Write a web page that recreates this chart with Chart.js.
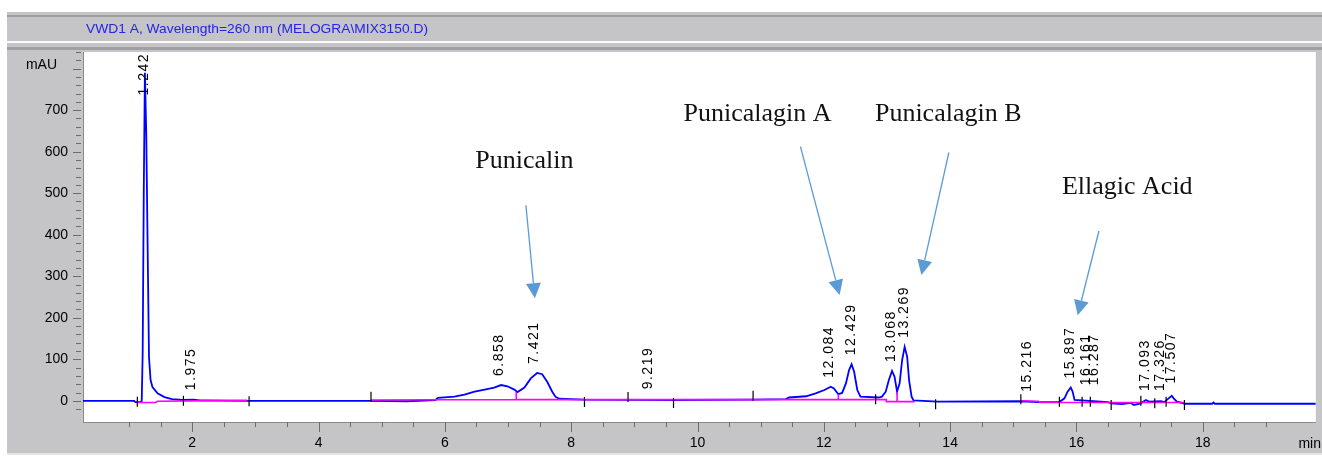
<!DOCTYPE html>
<html>
<head>
<meta charset="utf-8">
<script src="https://cdn.jsdelivr.net/npm/chart.js@4.4.0/dist/chart.umd.min.js"></script>
<style>
html, body { margin: 0; padding: 0; background: #fff; }
#chromChart { display: block; }
</style>
</head>
<body>
<canvas id="chromChart" width="1322" height="457"></canvas>
<script>
// хроматограмма: время (мин) и сигнал (mAU)
var traceTime = [0.27,1.08,1.10,1.18,1.20,1.215,1.232,1.25,1.272,1.295,1.315,1.34,1.37,1.45,1.56,1.68,1.85,2.02,2.12,2.2,2.9,
    4.8,5.4,5.85,5.89,6.15,6.31,6.47,6.63,6.78,6.89,6.99,7.10,7.15,7.26,7.36,7.46,7.54,7.62,7.70,7.75,7.81,8.2,9.6,10.9,
    11.40,11.45,11.72,11.87,12.01,12.11,12.16,12.23,12.29,12.35,12.40,12.44,12.48,12.53,12.58,12.87,12.92,12.98,13.03,13.08,
    13.12,13.16,13.20,13.24,13.28,13.32,13.35,13.39,13.42,13.8,15.12,15.4,15.73,15.81,15.86,15.91,15.94,15.97,16.5,16.55,
    16.72,16.86,16.91,17.02,17.10,17.15,17.34,17.39,17.46,17.51,17.54,17.59,17.72,18.15,18.17,18.19,19.79];
var traceAbs = [0,0,-3,-3,0,115,500,790,640,350,105,50,33,18,9,4,2,3,1,1,0,
    0,-1,2,7,10,15,22,27,32,38,35,27,21,32,54,67,64,46,22,10,5,3,2,3,
    4,8,11,18,26,34,30,16,19,42,74,88,70,26,10,8,10,22,50,72,
    58,22,42,98,130,106,50,10,1,-2,-1,-3,-3,6,22,32,22,2,-3,-6,
    -8,-5,-10,-6,2,-2,-1,-3,6,12,6,-2,-7,-7,-4,-7,-7];
// базовая линия интегрирования (null - разрыв)
var baseTime = [1.13,1.42,1.45,2.87,3.5,4.83,7.13,7.13,7.13,12.23,12.23,12.23,12.99,12.99,13.16,13.16,13.16,13.44,14,15.12,15.4,15.42,17.71];
var baseAbs = [-4,-4,-1,1,null,2,3,21,3,3,16,3,3,-2,-2,20,-2,-2,null,0,-1,-4,-4];
// метки начала/конца пиков
var markTime = [1.13,1.86,2.9,4.83,8.21,8.9,9.62,10.88,12.82,13.77,15.12,15.73,16.09,16.22,16.55,17.02,17.24,17.42,17.71];
var markAbs = [-2,0,-1,10,-3,9,-5,12,4,-8,4,-2,-2,-2,-10,0,-6,-2,-10];
// подписи пиков и высота вершины
var peakLabels = ['1.242','1.975','6.858','7.421','9.219','12.084','12.429','13.068','13.269','15.216','15.897','16.161','16.287','17.093','17.326','17.507'];
var peakHeights = [790,4,38,67,6,34,88,72,130,0,32,16,16,2,2,20];
// подписи веществ
var compoundNames = ['Punicalin','Punicalagin A','Punicalagin B','Ellagic Acid'];
var xTickLabels = [2,4,6,8,10,12,14,16,18];
var yTickLabels = [0,100,200,300,400,500,600,700];

var titleText = 'VWD1 A, Wavelength=260 nm (MELOGRA\\MIX3150.D)';

// положение подписей и стрелок (в единицах осей)
var compoundPos = [
    { x: 7.26, y: 560, from: [7.283, 471], to: [7.425, 247] },
    { x: 10.95, y: 674, from: [11.63, 612], to: [12.25, 255] },
    { x: 13.97, y: 674, from: [13.98, 598], to: [13.545, 303] },
    { x: 16.805, y: 498, from: [16.356, 409], to: [16.02, 206] }
];

function MakePoints(xs, ys){
    return xs.map(function(t, i){ return { x: t, y: ys[i] }; });
}

function IsMultiple(v, step){
    var k = v / step;
    return Math.abs(k - Math.round(k)) < 1e-6;
}

// стрелка с треугольным наконечником
function DrawArrow(ctx, x1, y1, x2, y2){
    var ang = Math.atan2(y2 - y1, x2 - x1);
    var len = 15, half = 7.5;
    var bx = x2 - len * Math.cos(ang), by = y2 - len * Math.sin(ang);
    ctx.beginPath();
    ctx.moveTo(x1, y1);
    ctx.lineTo(bx, by);
    ctx.stroke();
    ctx.beginPath();
    ctx.moveTo(x2, y2);
    ctx.lineTo(bx + half * Math.sin(ang), by - half * Math.cos(ang));
    ctx.lineTo(bx - half * Math.sin(ang), by + half * Math.cos(ang));
    ctx.closePath();
    ctx.fill();
}

var panelPlugin = {
    id: 'panel',
    beforeDraw: function(chart){
        var ctx = chart.ctx, a = chart.chartArea, W = chart.width;
        ctx.save();
        ctx.fillStyle = '#fff';
        ctx.fillRect(0, 0, W, chart.height);
        // серая рамка
        ctx.fillStyle = '#c5c5c7';
        ctx.fillRect(7, 12, W - 7, 441);
        ctx.fillStyle = '#9d9d9f';
        ctx.fillRect(7, 15, W - 7, 2);
        ctx.fillStyle = '#fbfbfb';
        ctx.fillRect(7, 41, W - 7, 2);
        ctx.fillStyle = '#a0a0a2';
        ctx.fillRect(7, 47, W - 7, 3);
        ctx.fillStyle = '#e4e4e6';
        ctx.fillRect(7, 453, W - 7, 2);
        // поле графика
        ctx.fillStyle = '#fff';
        ctx.fillRect(a.left, a.top, a.right - a.left, a.bottom - a.top);
        // заголовок
        ctx.font = '13px "Liberation Sans", Arial, sans-serif';
        ctx.fillStyle = '#2424e8';
        ctx.textBaseline = 'middle';
        ctx.textAlign = 'left';
        var tw = ctx.measureText(titleText).width;
        ctx.translate(86, 29);
        ctx.scale(342 / tw, 1);
        ctx.fillText(titleText, 0, 0);
        ctx.restore();
    },
    afterDraw: function(chart){
        var ctx = chart.ctx, a = chart.chartArea;
        var xs = chart.scales.x, ys = chart.scales.y;
        ctx.save();
        // деления осей
        ctx.strokeStyle = '#6c6c6c';
        ctx.lineWidth = 1;
        ctx.beginPath();
        ys.ticks.forEach(function(t){
            var y = Math.round(ys.getPixelForValue(t.value)) + 0.5;
            var major = IsMultiple(t.value, 100);
            ctx.moveTo(a.left - (major ? 10 : 7), y);
            ctx.lineTo(a.left - 2, y);
        });
        xs.ticks.forEach(function(t){
            var x = Math.round(xs.getPixelForValue(t.value)) + 0.5;
            var major = IsMultiple(t.value, 2);
            ctx.moveTo(x, a.bottom);
            ctx.lineTo(x, a.bottom + (major ? 10 : 5));
        });
        ctx.stroke();

        ctx.fillStyle = '#000';
        ctx.font = '14px "Liberation Sans", Arial, sans-serif';
        ctx.textBaseline = 'middle';
        ctx.textAlign = 'right';
        ctx.fillText('mAU', a.left - 26, 65);
        ctx.fillText('min', chart.width - 1, 444);

        // подписи пиков
        ctx.letterSpacing = '1.5px';
        ctx.textAlign = 'left';
        peakLabels.forEach(function(lbl, i){
            var x = xs.getPixelForValue(parseFloat(lbl));
            var yb = ys.getPixelForValue(peakHeights[i]) - 9;
            var w = ctx.measureText(lbl).width;
            if (yb - w < a.top + 1) yb = a.top + 1 + w;
            ctx.save();
            ctx.translate(x, yb);
            ctx.rotate(-Math.PI / 2);
            ctx.fillText(lbl, 0, 0);
            ctx.restore();
        });
        ctx.letterSpacing = '0px';

        // названия веществ и стрелки
        ctx.font = '26px "Liberation Serif", "Times New Roman", serif';
        ctx.textAlign = 'center';
        ctx.textBaseline = 'alphabetic';
        ctx.strokeStyle = '#5b9bd5';
        ctx.lineWidth = 1.3;
        compoundNames.forEach(function(name, i){
            var p = compoundPos[i];
            ctx.fillStyle = '#111';
            ctx.fillText(name, xs.getPixelForValue(p.x), ys.getPixelForValue(p.y));
            ctx.fillStyle = '#5b9bd5';
            DrawArrow(ctx, xs.getPixelForValue(p.from[0]), ys.getPixelForValue(p.from[1]),
                xs.getPixelForValue(p.to[0]), ys.getPixelForValue(p.to[1]));
        });
        ctx.restore();
    }
};

Chart.defaults.font.family = '"Liberation Sans", Arial, sans-serif';

myChart = new Chart(document.getElementById('chromChart'), {
    type: 'line',
    data: {
        datasets: [{
            label: 'marks',
            data: MakePoints(markTime, markAbs),
            showLine: false,
            pointStyle: 'line',
            rotation: 90,
            pointRadius: 5,
            borderColor: '#000',
            borderWidth: 1.2
        }, {
            label: 'baseline',
            data: MakePoints(baseTime, baseAbs),
            borderColor: '#ff00ff',
            borderWidth: 1.6,
            pointRadius: 0,
            spanGaps: false,
            tension: 0
        }, {
            label: 'signal',
            data: MakePoints(traceTime, traceAbs),
            borderColor: '#0000ff',
            borderWidth: 1.8,
            pointRadius: 0,
            tension: 0
        }]
    },
    options: {
        responsive: false,
        animation: false,
        devicePixelRatio: 1,
        layout: { padding: { top: 52, right: 1, left: 0, bottom: 0 } },
        plugins: { legend: { display: false }, tooltip: { enabled: false } },
        scales: {
            x: {
                type: 'linear',
                min: 0.27,
                max: 19.79,
                grid: { display: false, drawTicks: false },
                border: { display: true, color: '#8a8a8a' },
                ticks: {
                    stepSize: 0.5,
                    autoSkip: false,
                    maxRotation: 0,
                    padding: 13,
                    color: '#000',
                    font: { size: 14 },
                    callback: function(v){
                        return xTickLabels.indexOf(Math.round(v)) >= 0 && IsMultiple(v, 1) ? String(Math.round(v)) : '';
                    }
                },
                afterBuildTicks: function(s){
                    s.ticks = s.ticks.filter(function(t){ return IsMultiple(t.value, 0.5); });
                },
                afterFit: function(s){ s.height = 35; }
            },
            y: {
                min: -51,
                max: 840,
                grid: { display: false, drawTicks: false },
                border: { display: true, color: '#8a8a8a' },
                ticks: {
                    stepSize: 20,
                    autoSkip: false,
                    padding: 15,
                    color: '#000',
                    font: { size: 14 },
                    callback: function(v){
                        return yTickLabels.indexOf(Math.round(v)) >= 0 && IsMultiple(v, 1) ? String(Math.round(v)) : '';
                    }
                },
                afterBuildTicks: function(s){
                    s.ticks = s.ticks.filter(function(t){ return IsMultiple(t.value, 20); });
                },
                afterFit: function(s){ s.width = 83; }
            }
        }
    },
    plugins: [panelPlugin]
});
</script>
</body>
</html>
